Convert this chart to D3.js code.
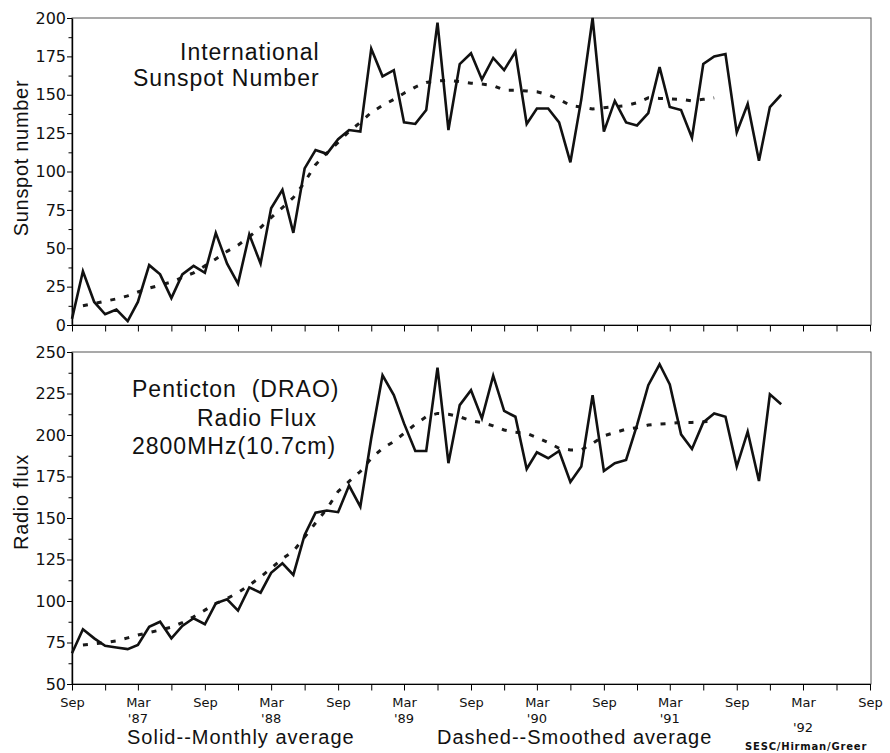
<!DOCTYPE html>
<html>
<head>
<meta charset="utf-8">
<script src="https://cdnjs.cloudflare.com/ajax/libs/d3/7.8.5/d3.min.js"></script>
<style>
  body { margin: 0; background: #fff; }
  svg { display: block; font-family: "Liberation Sans", Arial, sans-serif; }
</style>
</head>
<body>
<svg width="890" height="753"></svg>
<script>
// monthly values, Sep 1986 .. Jan 1992
var sunspotMonthly = [4, 35, 15, 7, 10, 2.5, 15, 39, 33, 17.5,
  33, 38.5, 34, 60, 40, 27, 59, 40, 76, 88,
  60, 102, 114, 111.5, 121, 127, 126, 180, 162, 166,
  132, 131, 140, 197, 127, 170, 177, 160, 174, 166,
  178, 131, 141, 141, 132, 106, 147, 200, 126, 146,
  132, 130, 138, 168, 142, 140, 122, 170, 175, 176.5,
  125.5, 144, 107, 142, 150];

// smoothed values start one month later and stop mid 1991
var sunspotSmoothed = [null, 12.5, 14, 15.5, 17, 19, 21.5, 24, 26, 28,
  31, 34, 38.5, 43, 48, 52, 57.5, 63.5, 70, 76.5,
  83, 93, 104.5, 112, 119, 126, 132, 138.5, 143, 147,
  151, 155, 158, 159, 159.5, 158.5, 157.5, 157, 156, 153,
  153, 152.5, 152, 150, 147, 143, 142, 140.7, 141.5, 142.2,
  143, 144.8, 148, 147.6, 147.3, 147, 146, 147, 148];

var fluxMonthly = [68.5, 83, 77.5, 73, 72, 71, 73.5, 84.5, 87.5, 77.5,
  85, 89.6, 86, 98.6, 101, 94.2, 108.2, 105, 117, 122.7,
  115.7, 139.8, 153.2, 154.5, 153.5, 169.5, 156.8, 198, 236, 224,
  207, 190.4, 190.4, 240.6, 183, 218, 227, 210, 235.7, 214.5,
  211, 179.5, 189.6, 186, 190.4, 171.7, 181, 224, 178.3, 183,
  185, 206, 230, 242.6, 230.5, 200.4, 191.6, 207.6, 213, 211,
  181, 202, 172.3, 224.5, 218.5];

var fluxSmoothed = [null, 73.5, 74.2, 75, 76, 77.8, 79.5, 81, 82.5, 84.2,
  87, 90.5, 94.5, 98.5, 101.5, 105, 109.5, 114.5, 119.7, 125.5,
  130, 138.5, 147, 155.5, 166, 172, 178, 186, 192, 196,
  201, 206.5, 211, 213, 212.5, 211, 208.5, 207.5, 205.5, 203,
  201.6, 201, 198.5, 195.5, 192, 191, 191, 195, 199.5, 201.5,
  203.5, 204.4, 206, 206.6, 207, 207.6, 207.6, 208, 208.4];

// x tick labels, one per quarter Sep 1986 .. Sep 1992
var tickMonths = ["Sep","","Mar","","Sep","","Mar","","Sep","","Mar","","Sep",
                  "","Mar","","Sep","","Mar","","Sep","","Mar","","Sep"];
var tickYears  = ["","","'87","","","","'88","","","","'89","","",
                  "","'90","","","","'91","","","","'92","",""];

var sunspotTicks = [0, 25, 50, 75, 100, 125, 150, 175, 200];
var fluxTicks = [50, 75, 100, 125, 150, 175, 200, 225, 250];

var svg = d3.select("svg");

var startDate = new Date(1986, 8, 1),
    endDate = new Date(1992, 8, 1);

var months = d3.timeMonth.range(startDate, new Date(1992, 1, 1));
var quarterTicks = d3.timeMonth.range(startDate, new Date(1992, 8, 2), 3);

var x = d3.scaleTime().domain([startDate, endDate]).range([72, 870]);

var yTop = d3.scaleLinear().domain([0, 200]).range([325, 18]);
var yBot = d3.scaleLinear().domain([50, 250]).range([684, 352]);

var tickFont = "'DejaVu Sans', sans-serif";

// draws one panel: frame, axes, solid + dotted lines
function panel(y, ticks, monthly, smoothed, showLabels) {
  var g = svg.append("g");
  var r = y.range();

  // thin frame round the plot
  g.append("rect")
      .attr("x", x.range()[0])
      .attr("y", r[1])
      .attr("width", x.range()[1] - x.range()[0] + 1)
      .attr("height", r[0] - r[1])
      .attr("fill", "none")
      .attr("stroke", "#555")
      .attr("stroke-width", 1);

  // minor ticks halfway between the labelled ones
  var minor = ticks.slice(1).map(function(t, i) { return (t + ticks[i]) / 2; });
  g.append("g")
      .attr("transform", "translate(" + x.range()[0] + ",0)")
      .call(d3.axisLeft(y).tickValues(minor).tickSize(3.5).tickSizeOuter(0).tickFormat(""))
      .select(".domain").remove();

  var yAxis = g.append("g")
      .attr("transform", "translate(" + x.range()[0] + ",0)")
      .call(d3.axisLeft(y).tickValues(ticks).tickSize(5).tickPadding(1).tickSizeOuter(0));
  yAxis.select(".domain").attr("stroke-width", 1.4);
  yAxis.selectAll("text")
      .attr("font-family", tickFont)
      .attr("font-size", 16)
      .attr("fill", "#111");

  var xAxis = g.append("g")
      .attr("transform", "translate(0," + r[0] + ")")
      .call(d3.axisBottom(x).tickValues(quarterTicks).tickSize(6.5).tickPadding(7)
        .tickSizeOuter(0)
        .tickFormat(function(d, i) { return showLabels ? tickMonths[i] : ""; }));
  xAxis.select(".domain").attr("stroke-width", 1.2);
  xAxis.selectAll("text")
      .attr("font-family", tickFont)
      .attr("font-size", 13)
      .attr("fill", "#111");

  var line = d3.line()
      .defined(function(d) { return d.v != null; })
      .x(function(d) { return x(d.date); })
      .y(function(d) { return y(d.v); });

  var smoothRows = months.map(function(m, i) { return {date: m, v: smoothed[i]}; });
  var monthRows = months.map(function(m, i) { return {date: m, v: monthly[i]}; });

  // dashed = smoothed average
  g.append("path")
      .datum(smoothRows.filter(function(d) { return d.v != null; }))
      .attr("d", line)
      .attr("fill", "none")
      .attr("stroke", "#1a1a1a")
      .attr("stroke-width", 3)
      .attr("stroke-dasharray", "5,9");

  // solid = monthly average
  g.append("path")
      .datum(monthRows)
      .attr("d", line)
      .attr("fill", "none")
      .attr("stroke", "#111")
      .attr("stroke-width", 2.6)
      .attr("stroke-linejoin", "miter");

  return g;
}

panel(yTop, sunspotTicks, sunspotMonthly, sunspotSmoothed, false);
panel(yBot, fluxTicks, fluxMonthly, fluxSmoothed, true);

// year labels under the March ticks
var yearNudge = {"'92": 9};
svg.append("g").selectAll("text")
    .data(quarterTicks.map(function(d, i) { return {date: d, label: tickYears[i]}; })
      .filter(function(d) { return d.label; }))
    .enter().append("text")
      .attr("x", function(d) { return x(d.date); })
      .attr("y", function(d) { return 723 + (yearNudge[d.label] || 0); })
      .attr("text-anchor", "middle")
      .attr("font-family", tickFont)
      .attr("font-size", 13)
      .attr("fill", "#111")
      .text(function(d) { return d.label; });

// axis titles
svg.append("text")
    .attr("transform", "translate(28,158) rotate(-90)")
    .attr("text-anchor", "middle")
    .attr("font-size", 20)
    .attr("letter-spacing", 0.7)
    .attr("fill", "#111")
    .text("Sunspot number");

svg.append("text")
    .attr("transform", "translate(28,502) rotate(-90)")
    .attr("text-anchor", "middle")
    .attr("font-size", 20)
    .attr("letter-spacing", 0.7)
    .attr("fill", "#111")
    .text("Radio flux");

// in-plot captions
function caption(txt, px, py) {
  svg.append("text")
      .attr("x", px)
      .attr("y", py)
      .attr("font-size", 23)
      .attr("letter-spacing", 1)
      .attr("fill", "#111")
      .style("white-space", "pre")
      .text(txt);
}
caption("International", 180, 60);
caption("Sunspot Number", 133, 86);
caption("Penticton  (DRAO)", 132, 397);
caption("Radio Flux", 197, 426);
caption("2800MHz(10.7cm)", 132, 454);

// legend line under the axis
svg.append("text")
    .attr("x", 127).attr("y", 744)
    .attr("font-size", 20)
    .attr("letter-spacing", 1)
    .attr("fill", "#111")
    .text("Solid--Monthly average");

svg.append("text")
    .attr("x", 437).attr("y", 744)
    .attr("font-size", 20)
    .attr("letter-spacing", 1)
    .attr("fill", "#111")
    .text("Dashed--Smoothed average");

svg.append("text")
    .attr("x", 745).attr("y", 750)
    .attr("font-family", tickFont)
    .attr("font-weight", "bold")
    .attr("font-size", 10)
    .attr("letter-spacing", 0.8)
    .attr("fill", "#111")
    .text("SESC/Hirman/Greer");
</script>
</body>
</html>
